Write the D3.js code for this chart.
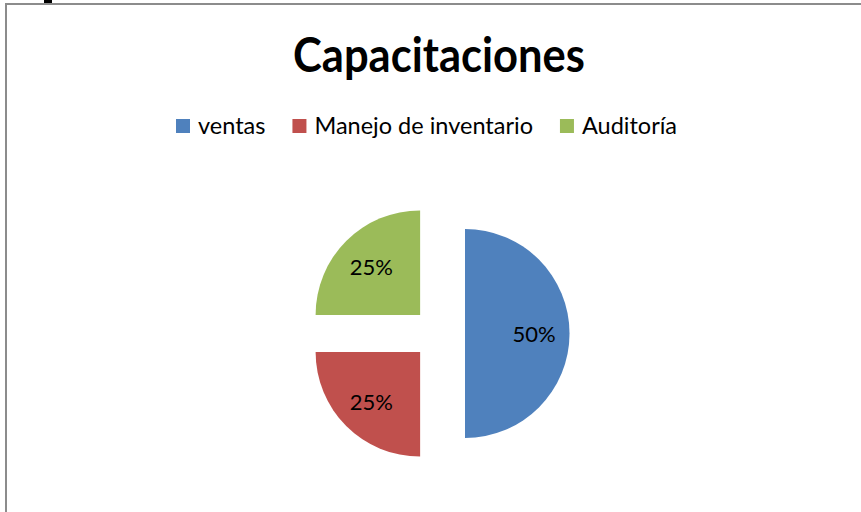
<!DOCTYPE html>
<html lang="es">
<head>
  <meta charset="UTF-8">
  <title>Capacitaciones</title>
  <script src="https://d3js.org/d3.v7.min.js"></script>
  <style>
    body { margin: 0; background: #fff; }
    svg { display: block; font-family: Lato, "Open Sans", sans-serif; }
  </style>
</head>
<body>
  <svg width="861" height="512"></svg>

  <script>
    const title      = "Capacitaciones";
    const categories = ["ventas", "Manejo de inventario", "Auditoría"];
    const values     = [50, 25, 25];
    const labels     = ["50%", "25%", "25%"];
    const colors     = ["#4F81BD", "#C0504D", "#9BBB59"];

    const svg = d3.select("svg");

    // chart frame (runs off the right and bottom of the crop)
    svg.append("rect")
      .attr("x", 6).attr("y", 4)
      .attr("width", 900).attr("height", 560)
      .attr("fill", "none")
      .attr("stroke", "#8c8c8c")
      .attr("stroke-width", 2);

    // bit of document text peeking above the frame
    svg.append("rect")
      .attr("x", 44).attr("y", 0)
      .attr("width", 8).attr("height", 3)
      .attr("fill", "#000");

    // title
    svg.append("text")
      .attr("x", 439).attr("y", 72)
      .attr("text-anchor", "middle")
      .attr("font-weight", "bold")
      .attr("font-size", 47)
      .attr("textLength", 292)
      .attr("lengthAdjust", "spacingAndGlyphs")
      .attr("fill", "#000")
      .text(title);

    // legend
    const legend = svg.append("g").attr("transform", "translate(176,0)");
    let lx = 0;
    categories.forEach((c, i) => {
      const item = legend.append("g").attr("transform", `translate(${lx},0)`);
      item.append("rect")
        .attr("x", 0).attr("y", 119)
        .attr("width", 14).attr("height", 14)
        .attr("fill", colors[i]);
      const t = item.append("text")
        .attr("x", 22).attr("y", 134)
        .attr("font-size", 23.5)
        .attr("fill", "#000")
        .text(c);
      lx += 22 + t.node().getComputedTextLength() + 27;
    });

    // pie
    const cx = 438.7, cy = 333.5, r = 104.5, explode = 26.3;
    const pie = d3.pie().sort(null).startAngle(0).endAngle(2 * Math.PI);
    const arc = d3.arc().innerRadius(0).outerRadius(r);
    const labelArc = d3.arc().innerRadius(r * 0.66).outerRadius(r * 0.66);

    const slices = svg.append("g")
      .attr("transform", `translate(${cx},${cy})`)
      .selectAll("g")
      .data(pie(values))
      .join("g")
        .attr("transform", d => {
          const a = (d.startAngle + d.endAngle) / 2;
          return `translate(${Math.sin(a) * explode},${-Math.cos(a) * explode})`;
        });

    slices.append("path")
      .attr("d", arc)
      .attr("fill", (d, i) => colors[i]);

    slices.append("text")
      .attr("transform", d => `translate(${labelArc.centroid(d)})`)
      .attr("text-anchor", "middle")
      .attr("dy", "0.4em")
      .attr("font-size", 22)
      .attr("fill", "#000")
      .text((d, i) => labels[i]);
  </script>
</body>
</html>
